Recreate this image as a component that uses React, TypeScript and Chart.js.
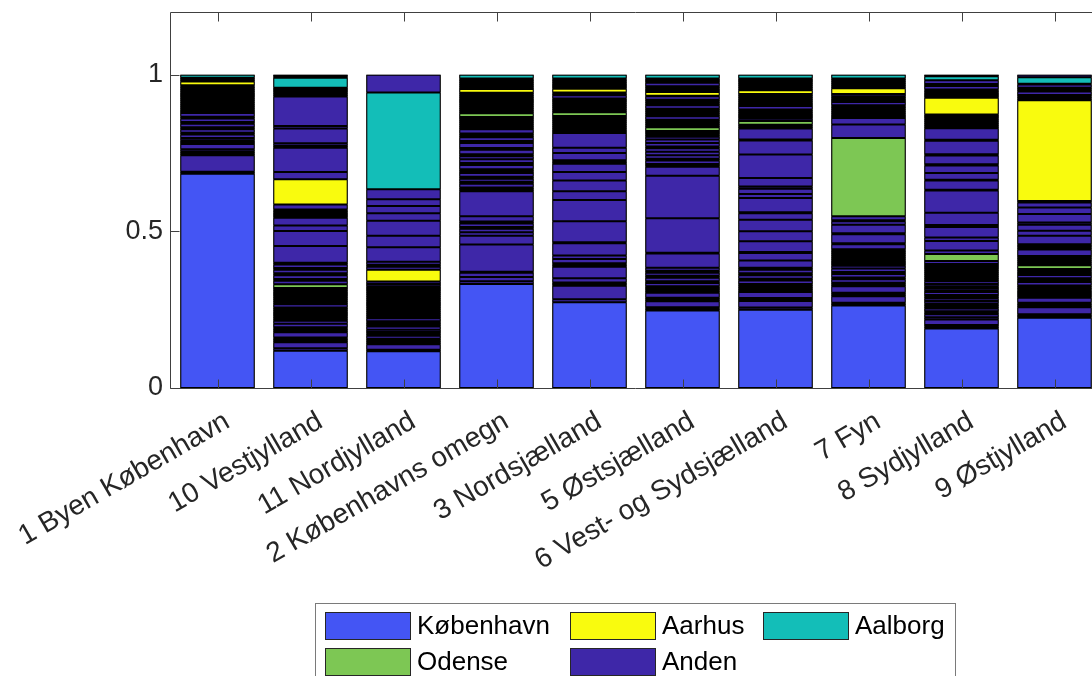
import React, { useEffect, useRef } from "react";
import { Chart, registerables } from "chart.js";

Chart.register(...registerables);

type Seg = number | [string, number];

// Regions (x categories)
const regions = [
  "1 Byen København",
  "10 Vestjylland",
  "11 Nordjylland",
  "2 Københavns omegn",
  "3 Nordsjælland",
  "5 Østsjælland",
  "6 Vest- og Sydsjælland",
  "7 Fyn",
  "8 Sydjylland",
  "9 Østjylland",
];

// Destination classes (legend)
const classNames = ["København", "Aarhus", "Aalborg", "Odense", "Anden"];
const classKeys = ["K", "Y", "T", "O", "A"];
const classColors = ["#4455F4", "#F9FB0E", "#13BEB8", "#7DC754", "#3E27A8"];

const yTicks = [0, 0.5, 1];

// Stacked shares per region, bottom to top (plain number = Anden)
const byenKobenhavn: Seg[] = [["K", 0.684], 0.006, 0.053, 0.006, 0.006, 0.007, 0.017, 0.006, 0.006, 0.007, 0.011, 0.006, 0.011, 0.006, 0.011, 0.006, 0.011, 0.006, 0.012, 0.006, 0.006, 0.006, 0.006, 0.006, 0.006, 0.006, 0.006, 0.006, 0.006, 0.006, 0.006, 0.006, 0.006, 0.004, ["Y", 0.012], 0.006, 0.006, ["T", 0.010]];
const vestjylland: Seg[] = [["K", 0.119], 0.008, 0.019, 0.006, 0.006, 0.003, 0.017, 0.006, 0.006, 0.004, 0.011, 0.010, 0.006, 0.006, 0.006, 0.006, 0.006, 0.006, 0.006, 0.010, 0.006, 0.006, 0.006, 0.006, 0.006, 0.006, 0.006, 0.006, 0.004, ["O", 0.012], 0.011, 0.006, 0.012, 0.006, 0.011, 0.006, 0.011, 0.006, 0.053, 0.048, 0.018, 0.024, 0.006, 0.006, 0.006, 0.006, 0.003, 0.016, ["Y", 0.080], 0.023, 0.078, 0.006, 0.008, 0.047, 0.008, 0.094, 0.006, 0.006, 0.006, 0.006, 0.004, ["T", 0.032], 0.005, 0.005];
const nordjylland: Seg[] = [["K", 0.117], 0.005, 0.018, 0.006, 0.006, 0.005, 0.010, 0.006, 0.006, 0.007, 0.010, 0.006, 0.006, 0.005, 0.010, 0.006, 0.006, 0.006, 0.006, 0.006, 0.006, 0.006, 0.006, 0.006, 0.006, 0.006, 0.006, 0.006, 0.006, 0.006, 0.006, 0.006, 0.007, 0.008, ["Y", 0.037], 0.010, 0.006, 0.010, 0.046, 0.037, 0.048, 0.024, 0.023, 0.021, 0.032, ["T", 0.309], 0.057];
const kobenhavnsOmegn: Seg[] = [["K", 0.332], 0.009, 0.013, 0.014, 0.003, 0.087, 0.028, 0.011, 0.011, 0.006, 0.011, 0.006, 0.017, 0.080, 0.006, 0.006, 0.012, 0.006, 0.010, 0.006, 0.012, 0.006, 0.006, 0.014, 0.006, 0.012, 0.010, 0.006, 0.014, 0.006, 0.016, 0.006, 0.012, 0.006, 0.006, 0.014, 0.006, 0.006, 0.006, 0.006, 0.006, 0.006, 0.003, ["O", 0.012], 0.006, 0.006, 0.006, 0.006, 0.006, 0.006, 0.006, 0.006, 0.006, 0.006, 0.005, ["Y", 0.012], 0.006, 0.006, 0.006, 0.006, 0.006, 0.004, ["T", 0.012]];
const nordsjaelland: Seg[] = [["K", 0.274], 0.009, 0.043, 0.006, 0.005, 0.013, 0.037, 0.006, 0.005, 0.014, 0.011, 0.039, 0.003, 0.067, 0.068, 0.028, 0.034, 0.027, 0.027, 0.006, 0.005, 0.023, 0.017, 0.047, 0.006, 0.006, 0.006, 0.006, 0.006, 0.006, 0.006, 0.006, 0.006, ["O", 0.012], 0.006, 0.006, 0.006, 0.006, 0.006, 0.006, 0.006, 0.002, 0.010, 0.006, 0.003, ["Y", 0.012], 0.006, 0.006, 0.006, 0.006, 0.006, 0.003, ["T", 0.012]];
const ostsjaelland: Seg[] = [["K", 0.247], 0.006, 0.005, 0.019, 0.006, 0.005, 0.016, 0.006, 0.006, 0.006, 0.003, 0.010, 0.006, 0.011, 0.006, 0.010, 0.006, 0.010, 0.045, 0.003, 0.110, 0.135, 0.029, 0.006, 0.003, 0.011, 0.006, 0.011, 0.011, 0.011, 0.006, 0.011, 0.011, 0.009, 0.006, 0.006, 0.006, ["O", 0.012], 0.006, 0.006, 0.006, 0.006, 0.011, 0.006, 0.006, 0.006, 0.006, 0.011, 0.006, 0.006, 0.006, 0.011, 0.002, ["Y", 0.012], 0.006, 0.006, 0.006, 0.011, 0.006, 0.006, 0.002, ["T", 0.012]];
const vestSydsjaelland: Seg[] = [["K", 0.250], 0.007, 0.021, 0.006, 0.003, 0.019, 0.006, 0.006, 0.006, 0.006, 0.002, 0.011, 0.006, 0.011, 0.006, 0.011, 0.007, 0.023, 0.024, 0.003, 0.034, 0.032, 0.037, 0.021, 0.003, 0.045, 0.013, 0.017, 0.007, 0.027, 0.075, 0.045, 0.003, 0.035, 0.006, 0.006, ["O", 0.012], 0.007, 0.006, 0.006, 0.006, 0.006, 0.006, 0.011, 0.006, 0.006, 0.006, 0.006, 0.006, 0.006, 0.002, ["Y", 0.012], 0.006, 0.006, 0.006, 0.006, 0.006, 0.006, 0.002, ["T", 0.012]];
const fyn: Seg[] = [["K", 0.263], 0.006, 0.003, 0.021, 0.006, 0.005, 0.021, 0.006, 0.005, 0.011, 0.006, 0.011, 0.006, 0.011, 0.009, 0.006, 0.006, 0.006, 0.006, 0.006, 0.006, 0.006, 0.006, 0.005, 0.016, 0.003, 0.029, 0.003, 0.027, 0.011, 0.003, 0.013, ["O", 0.250], 0.043, 0.021, 0.006, 0.006, 0.006, 0.006, 0.006, 0.006, 0.004, 0.011, 0.006, 0.006, 0.006, 0.007, ["Y", 0.019], 0.006, 0.006, 0.006, 0.006, 0.006, 0.001, ["T", 0.012]];
const sydjylland: Seg[] = [["K", 0.190], 0.006, 0.005, 0.018, 0.007, 0.009, 0.006, 0.004, 0.009, 0.006, 0.006, 0.004, 0.008, 0.008, 0.006, 0.005, 0.009, 0.006, 0.007, 0.006, 0.007, 0.009, 0.006, 0.006, 0.006, 0.006, 0.006, 0.006, 0.006, 0.006, 0.007, 0.009, ["O", 0.023], 0.011, 0.030, 0.011, 0.034, 0.006, 0.039, 0.071, 0.003, 0.029, 0.003, 0.021, 0.024, 0.004, 0.028, 0.004, 0.043, 0.003, 0.037, 0.006, 0.006, 0.006, 0.006, 0.006, 0.006, 0.006, 0.002, ["Y", 0.053], 0.006, 0.006, 0.006, 0.006, 0.003, 0.011, 0.006, 0.012, ["T", 0.013], 0.005];
const ostjylland: Seg[] = [["K", 0.224], 0.006, 0.005, 0.023, 0.006, 0.006, 0.002, 0.016, 0.006, 0.006, 0.006, 0.006, 0.003, 0.006, 0.006, 0.011, 0.006, 0.006, 0.011, 0.006, 0.006, 0.006, 0.001, ["O", 0.012], 0.006, 0.006, 0.006, 0.006, 0.005, 0.021, 0.006, 0.005, 0.006, 0.027, 0.016, 0.019, 0.007, 0.027, 0.021, 0.016, 0.005, ["Y", 0.321], 0.006, 0.006, 0.005, 0.011, 0.006, 0.006, 0.011, 0.002, ["T", 0.021], 0.008];

const regionSegments: Seg[][] = [
  byenKobenhavn,
  vestjylland,
  nordjylland,
  kobenhavnsOmegn,
  nordsjaelland,
  ostsjaelland,
  vestSydsjaelland,
  fyn,
  sydjylland,
  ostjylland,
];

const segValue = (s: Seg) => (Array.isArray(s) ? s[1] : s);
const segColor = (s: Seg) => {
  const key = Array.isArray(s) ? s[0] : "A";
  return classColors[classKeys.indexOf(key)];
};

const AXIS = "#404040";
const TEXT = "#262626";

// black underlay so anti-aliased seams between stacked segments read as edge lines
const underlayPlugin = {
  id: "stackUnderlay",
  beforeDatasetsDraw(chart: any) {
    const { ctx, scales } = chart;
    const meta = chart.getDatasetMeta(0);
    ctx.save();
    ctx.fillStyle = "#000000";
    regionSegments.forEach((segs, i) => {
      const el = meta.data[i];
      if (!el) return;
      const total = segs.reduce((acc, s) => acc + segValue(s), 0);
      const yTop = scales.y.getPixelForValue(total);
      const yBot = scales.y.getPixelForValue(0);
      ctx.fillRect(el.x - el.width / 2, yTop, el.width, yBot - yTop);
    });
    ctx.restore();
  },
};

const framePlugin = {
  id: "matlabFrame",
  afterDatasetsDraw(chart: any) {
    const { ctx, chartArea: a, scales } = chart;
    const x = scales.x;
    const y = scales.y;
    ctx.save();
    ctx.strokeStyle = AXIS;
    ctx.lineWidth = 1;
    ctx.beginPath();
    const L = Math.round(a.left) - 0.5;
    const R = Math.round(a.right) - 0.5;
    const T = Math.round(a.top) + 0.5;
    const B = Math.round(a.bottom) + 0.5;
    ctx.moveTo(L, B); ctx.lineTo(L, T); ctx.lineTo(R, T); ctx.lineTo(R, B); ctx.lineTo(L, B);
    yTicks.forEach((v) => {
      const py = Math.round(y.getPixelForValue(v)) + 0.5;
      ctx.moveTo(L, py); ctx.lineTo(L + 9, py);
    });
    regions.forEach((_, i) => {
      const px = Math.round(x.getPixelForValue(i)) + 0.5;
      ctx.moveTo(px, B); ctx.lineTo(px, B - 9);
      ctx.moveTo(px, T); ctx.lineTo(px, T + 9);
    });
    ctx.stroke();
    ctx.restore();
  },
};

const legendPlugin = {
  id: "boxLegend",
  afterDraw(chart: any) {
    const ctx = chart.ctx;
    ctx.save();
    ctx.fillStyle = "#ffffff";
    ctx.strokeStyle = "#7a7a7a";
    ctx.lineWidth = 1;
    ctx.fillRect(315, 603, 640, 120);
    ctx.strokeRect(315.5, 603.5, 640, 120);
    const colX = [325, 570, 763];
    const rowY = [612, 648];
    ctx.font = "26px 'Liberation Sans', Arial, sans-serif";
    ctx.textBaseline = "middle";
    ctx.textAlign = "left";
    classNames.forEach((name, i) => {
      const cx = colX[i % 3];
      const cy = rowY[Math.floor(i / 3)];
      ctx.fillStyle = classColors[i];
      ctx.fillRect(cx, cy, 86, 28);
      ctx.strokeStyle = "#262626";
      ctx.strokeRect(cx + 0.5, cy + 0.5, 85, 27);
      ctx.fillStyle = "#000000";
      ctx.fillText(name, cx + 92, cy + 15);
    });
    ctx.restore();
  },
};

export default function App() {
  const ref = useRef<HTMLCanvasElement | null>(null);

  useEffect(() => {
    if (!ref.current) return;
    Chart.defaults.font.family = "'Liberation Sans', Arial, sans-serif";
    const maxLen = Math.max(...regionSegments.map((s) => s.length));
    const datasets = [] as any[];
    for (let k = 0; k < maxLen; k++) {
      datasets.push({
        label: "seg" + k,
        data: regionSegments.map((s) => (k < s.length ? segValue(s[k]) : null)),
        backgroundColor: regionSegments.map((s) => (k < s.length ? segColor(s[k]) : "rgba(0,0,0,0)")),
        borderColor: "#000000",
        borderWidth: 1,
        borderSkipped: false,
        barPercentage: 0.8,
        categoryPercentage: 1,
      });
    }
    const chart = new Chart(ref.current, {
      type: "bar",
      data: { labels: regions, datasets },
      options: {
        responsive: false,
        animation: false,
        devicePixelRatio: 1,
        layout: { padding: { left: 0, top: 12, right: 9, bottom: 0 } },
        plugins: { legend: { display: false }, tooltip: { enabled: false } },
        scales: {
          x: {
            stacked: true,
            offset: true,
            grid: { display: false, drawTicks: false },
            border: { display: false },
            ticks: {
              autoSkip: false,
              maxRotation: 30,
              minRotation: 30,
              padding: 17,
              labelOffset: 10,
              color: TEXT,
              font: { size: 28 },
            },
            afterFit: (s: any) => {
              s.height = 312;
              s.paddingLeft = 0;
              s.paddingRight = 0;
            },
          },
          y: {
            stacked: true,
            min: 0,
            max: 1.2,
            grid: { display: false, drawTicks: false },
            border: { display: false },
            afterBuildTicks: (s: any) => {
              s.ticks = yTicks.map((v) => ({ value: v }));
            },
            ticks: {
              padding: 8,
              color: TEXT,
              font: { size: 27 },
              callback: (v: any) => String(v),
            },
            afterFit: (s: any) => {
              s.width = 171;
              s.paddingTop = 0;
              s.paddingBottom = 0;
            },
          },
        },
      },
      plugins: [underlayPlugin, framePlugin, legendPlugin],
    });
    return () => chart.destroy();
  }, []);

  return (
    <div style={{ position: "absolute", left: 0, top: 0, width: 1092, height: 676, overflow: "hidden", background: "#fff" }}>
      <canvas ref={ref} width={1110} height={700} style={{ display: "block", width: 1110, height: 700 }} />
    </div>
  );
}
